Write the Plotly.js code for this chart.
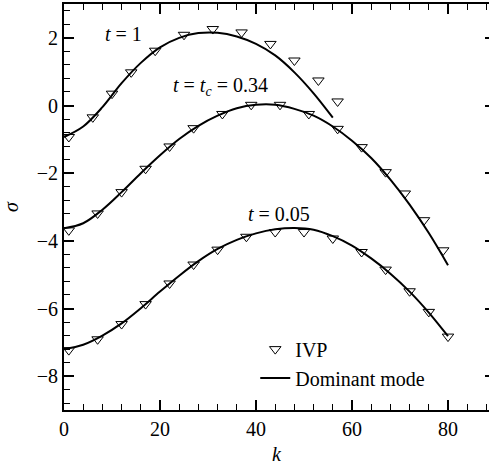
<!DOCTYPE html>
<html><head><meta charset="utf-8">
<script src="https://cdn.plot.ly/plotly-3.0.1.min.js"></script>
<style>html,body{margin:0;padding:0;overflow:hidden;background:#fff}</style>
</head><body><div id="chart" style="width:489px;height:469px"></div>
<script>
// IVP points
const kIVP1 = [1,6,10,14,19,25,31,37,43,48,53,57];
const sIVP1 = [-0.93,-0.35,0.35,0.98,1.62,2.09,2.26,2.16,1.82,1.33,0.74,0.12];
const kIVPc = [1,7,12,17,22,27,33,39,45,51,57,62,67,71,75,79];
const sIVPc = [-3.69,-3.19,-2.56,-1.87,-1.21,-0.67,-0.25,0.02,0.02,-0.25,-0.69,-1.23,-1.97,-2.6,-3.39,-4.28];
const kIVP05 = [1,7,12,17,22,27,32,38,44,50,56,62,67,72,76,80];
const sIVP05 = [-7.23,-6.91,-6.46,-5.87,-5.26,-4.70,-4.26,-3.88,-3.74,-3.74,-3.93,-4.33,-4.85,-5.49,-6.10,-6.83];
// Dominant mode curves
const kLine1 = [0,4,8,12,16,20,24,28,32,36,40,44,48,52,56];
const sLine1 = [-0.93,-0.62,-0.05,0.66,1.26,1.72,2.0,2.14,2.15,2.04,1.82,1.48,0.98,0.36,-0.36];
const kLineC = [0,4,8,12,16,20,24,28,32,36,40,44,48,52,56,60,64,68,72,76,80];
const sLineC = [-3.63,-3.48,-3.08,-2.56,-2.0,-1.47,-0.99,-0.6,-0.3,-0.08,0.02,0.02,-0.1,-0.3,-0.62,-1.04,-1.55,-2.19,-2.93,-3.77,-4.72];
const kLine05 = [0,4,8,12,16,20,24,28,32,36,40,44,48,52,56,60,64,68,72,76,80];
const sLine05 = [-7.2,-7.07,-6.8,-6.44,-5.99,-5.5,-5.03,-4.6,-4.24,-3.97,-3.78,-3.66,-3.62,-3.67,-3.86,-4.14,-4.52,-4.97,-5.5,-6.12,-6.82];
// labels
const curveLabels = ['<i>t</i> = 1', '<i>t</i> = <i>t</i><sub><i>c</i></sub> = 0.34', '<i>t</i> = 0.05'];
const labelK = [12.4, 32.5, 44.8];
const labelS = [2.12, 0.56, -3.2];
const legendNames = ['IVP', 'Dominant mode'];

const FONT = 'Liberation Serif, Times New Roman, serif';
const mk = {symbol:'triangle-down-open', size:10, color:'#000', line:{width:1, color:'#000'}};
const ln = {color:'#000', width:2, shape:'spline', smoothing:1};
const ivp = (k,s,show) => ({x:k, y:s, type:'scatter', mode:'markers', marker:mk, name:legendNames[0], legendgroup:'ivp', showlegend:show});
const dm = (k,s,show) => ({x:k, y:s, type:'scatter', mode:'lines', line:ln, name:legendNames[1], legendgroup:'dm', showlegend:show});

const data = [
  ivp(kIVP1,sIVP1,true), ivp(kIVPc,sIVPc,false), ivp(kIVP05,sIVP05,false),
  dm(kLine1,sLine1,true), dm(kLineC,sLineC,false), dm(kLine05,sLine05,false),
  {x:[], y:[], type:'scatter', mode:'markers', yaxis:'y2', showlegend:false, hoverinfo:'skip'}
];

const axBase = {
  showgrid:false, zeroline:false, showline:true, linewidth:2, linecolor:'#000',
  ticks:'inside', ticklen:10, tickwidth:2, tickcolor:'#000',
  tickfont:{family:FONT, size:20, color:'#000'},
  minor:{ticks:'inside', ticklen:6, tickwidth:1, tickcolor:'#000', showgrid:false}
};

const layout = {
  width:489, height:469,
  margin:{l:64, r:0, t:4, b:59},
  paper_bgcolor:'#fff', plot_bgcolor:'#fff',
  font:{family:FONT, size:20, color:'#000'},
  showlegend:true,
  legend:{x:0.45, y:0.198, xanchor:'left', yanchor:'top', bgcolor:'rgba(0,0,0,0)', font:{family:FONT, size:20}, tracegroupgap:0},
  xaxis:Object.assign({}, axBase, {mirror:'ticks', range:[0,88.54], tick0:0, dtick:20, minor:Object.assign({}, axBase.minor, {dtick:4}),
    title:{text:'<i>k</i>', font:{family:FONT, size:20}, standoff:8}}),
  yaxis:Object.assign({}, axBase, {mirror:false, range:[-9,3], tick0:0, dtick:2, minor:Object.assign({}, axBase.minor, {dtick:0.4, tick0:0}),
    title:{text:'<i>σ</i>', font:{family:FONT, size:20}, standoff:15}}),
  yaxis2:{overlaying:'y', side:'right', range:[-9,3], tick0:0, dtick:2, showline:false, showgrid:false, zeroline:false,
    ticks:'inside', ticklen:4, tickwidth:2, tickcolor:'#000', showticklabels:false},
  annotations: curveLabels.map((t,i)=>({x:labelK[i], y:labelS[i], xref:'x', yref:'y', text:t, showarrow:false, font:{family:FONT, size:20}}))
};

Plotly.newPlot('chart', data, layout, {displayModeBar:false, staticPlot:true});
</script></body></html>
